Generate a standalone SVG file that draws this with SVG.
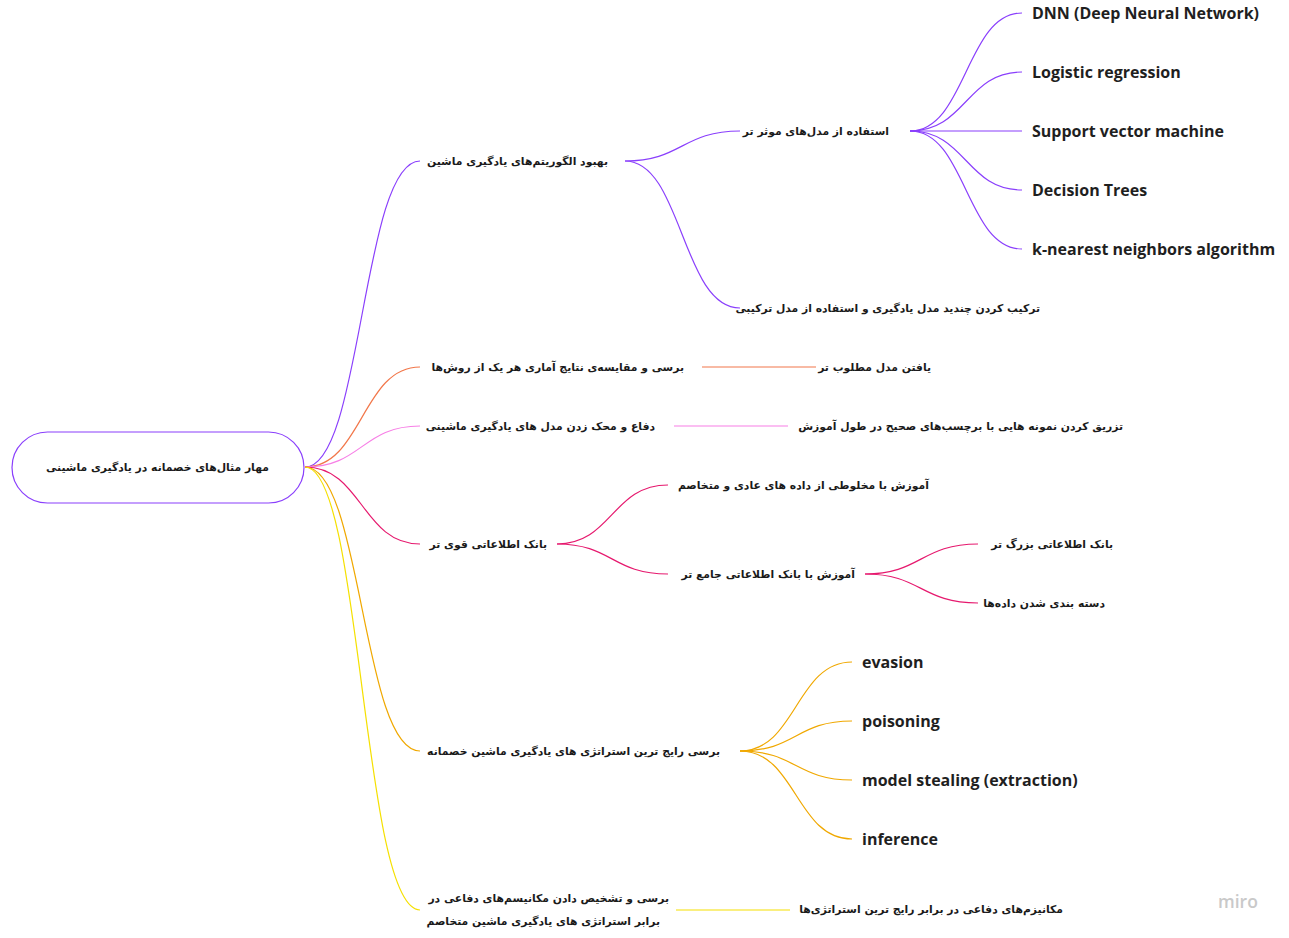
<svg xmlns="http://www.w3.org/2000/svg" width="1289" height="938" viewBox="0 0 1289 938">
<style>
.fa{font-family:"DejaVu Sans","Noto Sans",sans-serif;font-size:10.8px;font-weight:bold;fill:#1a1a1a;text-anchor:end}
.en{font-family:"Open Sans","Noto Sans",sans-serif;font-size:16px;font-weight:700;fill:#1f1f1f}
.c{fill:none;stroke-width:1.2}
.p{stroke:#8a3ffc}.o{stroke:#f2774a}.k{stroke:#f77fe6}.m{stroke:#e6196e}.a{stroke:#f0a800}.y{stroke:#f5e000}
</style>
<rect width="1289" height="938" fill="#ffffff"/>
<g id="connectors">
<path class="c p" d="M305,467 C362,467 362,161 420,161"/>
<path class="c o" d="M305,467 C362,467 362,367 420,367"/>
<path class="c k" d="M305,467 C362,467 362,426 420,426"/>
<path class="c m" d="M305,467 C362,467 362,544 420,544"/>
<path class="c a" d="M305,467 C362,467 362,751 420,751"/>
<path class="c y" d="M305,467 C362,467 362,910 420,910"/>
<path class="c p" d="M625,161 C682,161 682,131 740,131"/>
<path class="c p" d="M625,161 C682,161 682,308 740,308"/>
<path class="c p" d="M910,131 C966,131 966,13 1022,13"/>
<path class="c p" d="M910,131 C966,131 966,72 1022,72"/>
<path class="c p" d="M910,131 L1022,131"/>
<path class="c p" d="M910,131 C966,131 966,190 1022,190"/>
<path class="c p" d="M910,131 C966,131 966,249 1022,249"/>
<path class="c o" d="M702,367 L816,367"/>
<path class="c k" d="M674,426 L788,426"/>
<path class="c m" d="M557,544 C612,544 612,485 668,485"/>
<path class="c m" d="M557,544 C612,544 612,574 668,574"/>
<path class="c m" d="M865,574 C921,574 921,544 978,544"/>
<path class="c m" d="M865,574 C921,574 921,603 978,603"/>
<path class="c a" d="M740,751 C796,751 796,662 852,662"/>
<path class="c a" d="M740,751 C796,751 796,721 852,721"/>
<path class="c a" d="M740,751 C796,751 796,780 852,780"/>
<path class="c a" d="M740,751 C796,751 796,839 852,839"/>
<path class="c y" d="M676,910 L790,910"/>
</g>
<g id="root">
<rect x="12" y="432" width="292" height="71" rx="35.5" fill="#ffffff" stroke="#8a3ffc" stroke-width="1.2"/>
<text class="fa" x="269" y="471">مهار مثال‌های خصمانه در یادگیری ماشینی</text>
</g>
<g id="n1"><text class="fa" x="608" y="165">بهبود الگوریتم‌های یادگیری ماشین</text></g>
<g id="n1a"><text class="fa" x="889" y="135">استفاده از مدل‌های موثر تر</text></g>
<g id="n1a1"><text class="en" x="1032" y="19">DNN (Deep Neural Network)</text></g>
<g id="n1a2"><text class="en" x="1032" y="78">Logistic regression</text></g>
<g id="n1a3"><text class="en" x="1032" y="137">Support vector machine</text></g>
<g id="n1a4"><text class="en" x="1032" y="196">Decision Trees</text></g>
<g id="n1a5"><text class="en" x="1032" y="255">k-nearest neighbors algorithm</text></g>
<g id="n1b"><text class="fa" x="1040" y="312">ترکیب کردن چندید مدل یادگیری و استفاده از مدل ترکیبی</text></g>
<g id="n2"><text class="fa" x="684" y="371">برسی و مقایسه‌ی نتایج آماری هر یک از روش‌ها</text></g>
<g id="n2a"><text class="fa" x="931" y="371">یافتن مدل مطلوب تر</text></g>
<g id="n3"><text class="fa" x="655" y="430">دفاع و محک زدن مدل های یادگیری ماشینی</text></g>
<g id="n3a"><text class="fa" x="1123" y="430">تزریق کردن نمونه هایی با برچسب‌های صحیح در طول آموزش</text></g>
<g id="n4"><text class="fa" x="547" y="548">بانک اطلاعاتی قوی تر</text></g>
<g id="n4a"><text class="fa" x="929" y="489">آموزش با مخلوطی از داده های عادی و متخاصم</text></g>
<g id="n4b"><text class="fa" x="855" y="578">آموزش با بانک اطلاعاتی جامع تر</text></g>
<g id="n4b1"><text class="fa" x="1113" y="548">بانک اطلاعاتی بزرگ تر</text></g>
<g id="n4b2"><text class="fa" x="1105" y="607">دسته بندی شدن داده‌ها</text></g>
<g id="n5"><text class="fa" x="720" y="755">برسی رایج ترین استراتژی های یادگیری ماشین خصمانه</text></g>
<g id="n5a"><text class="en" x="862" y="668">evasion</text></g>
<g id="n5b"><text class="en" x="862" y="727">poisoning</text></g>
<g id="n5c"><text class="en" x="862" y="786">model stealing (extraction)</text></g>
<g id="n5d"><text class="en" x="862" y="845">inference</text></g>
<g id="n6">
<text class="fa" x="669" y="902">برسی و تشخیص دادن مکانیسم‌های دفاعی در</text>
<text class="fa" x="660" y="925">برابر استراتژی های یادگیری ماشین متخاصم</text>
</g>
<g id="n6a"><text class="fa" x="1063" y="913">مکانیزم‌های دفاعی در برابر رایج ترین استراتژی‌ها</text></g>
<text x="1218" y="908" font-family="Open Sans, sans-serif" font-size="17.5" font-weight="600" fill="#c9c9c9">miro</text>
</svg>
